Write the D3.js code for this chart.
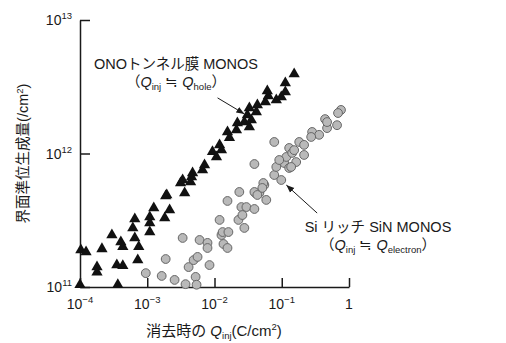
<!DOCTYPE html>
<html>
<head>
<meta charset="utf-8">
<script src="https://cdn.jsdelivr.net/npm/d3@7"></script>
<style>
  body { margin: 0; background: #fff; }
  text { font-family: "Liberation Sans", "Noto Sans CJK JP", sans-serif; fill: #1a1a1a; }
</style>
</head>
<body>
<svg id="chart" width="506" height="343"></svg>
<script>
// ONO tunnel film MONOS (triangles): Q_inj (C/cm2) vs interface states generated (/cm2)
const onoQ = [1.0e-4, 1.03e-4, 1.23e-4, 1.79e-4, 1.79e-4, 2.12e-4, 2.98e-4, 3.65e-4, 3.53e-4, 4.33e-4,
  4.05e-4, 4.33e-4, 7.23e-4, 7.48e-4, 6.53e-4, 6.10e-4, 6.53e-4, 1.09e-3, 1.09e-3, 1.09e-3,
  1.25e-3, 1.82e-3, 2.15e-3, 1.88e-3, 3.13e-3, 3.60e-3, 4.41e-3, 4.72e-3, 3.36e-3, 4.56e-3,
  6.64e-3, 7.11e-3, 9.33e-3, 1.07e-2, 1.19e-2, 1.27e-2, 1.56e-2, 1.67e-2, 2.12e-2, 2.19e-2,
  2.78e-2, 3.30e-2, 3.08e-2, 3.30e-2, 3.53e-2, 4.19e-2, 4.34e-2, 5.70e-2, 6.31e-2, 6.10e-2,
  8.30e-2, 9.84e-2, 0.113, 0.113, 0.153, 1.95e-3];
const onoN = [1.04e11, 1.89e11, 1.83e11, 1.41e11, 1.29e11, 1.93e11, 2.45e11, 1.04e11, 1.46e11, 1.44e11,
  2.17e11, 2.0e11, 1.59e11, 2.0e11, 3.23e11, 2.77e11, 2.33e11, 3.34e11, 3.01e11, 2.58e11,
  3.91e11, 3.29e11, 3.77e11, 4.81e11, 6.01e11, 5.06e11, 6.12e11, 7.14e11, 6.33e11, 6.67e11,
  7.52e11, 8.20e11, 1.03e12, 9.42e11, 1.16e12, 1.06e12, 1.45e12, 1.31e12, 1.50e12, 1.69e12,
  1.72e12, 1.58e12, 1.94e12, 2.19e12, 1.78e12, 2.05e12, 2.31e12, 2.43e12, 2.70e12, 2.94e12,
  2.52e12, 2.65e12, 2.89e12, 3.37e12, 3.94e12, 4.89e11];

// Si-rich SiN MONOS (circles)
const sirQ = [9.51e-4, 1.64e-3, 2.55e-3, 3.71e-3, 5.24e-3, 5.41e-3, 1.88e-3, 3.36e-3, 4.12e-3, 4.89e-3,
  5.60e-3, 8.43e-3, 6.00e-3, 7.87e-3, 7.87e-3, 1.19e-2, 1.27e-2, 1.36e-2, 1.56e-2, 1.32e-2,
  1.61e-2, 1.56e-2, 2.34e-2, 2.27e-2, 2.78e-2, 2.51e-2, 2.98e-2, 3.92e-2, 2.60e-2, 4.05e-2,
  4.65e-2, 5.51e-2, 5.89e-2, 3.92e-2, 5.32e-2, 5.14e-2, 3.92e-2, 4.34e-2, 7.74e-2, 7.74e-2,
  9.84e-2, 8.30e-2, 0.109, 0.129, 0.117, 0.164, 0.129, 0.143, 0.215, 0.153,
  0.182, 0.215, 0.283, 0.360, 0.274, 0.472, 0.441, 0.472, 0.664, 0.760,
  0.687, 9.18e-2, 0.138];
const sirN = [1.27e11, 1.21e11, 1.13e11, 1.05e11, 1.19e11, 1.04e11, 1.62e11, 2.33e11, 1.41e11, 1.59e11,
  1.68e11, 1.46e11, 2.25e11, 2.14e11, 1.96e11, 3.18e11, 2.45e11, 2.10e11, 1.96e11, 2.58e11,
  2.58e11, 4.41e11, 5.15e11, 3.18e11, 2.77e11, 3.97e11, 3.97e11, 3.84e11, 3.46e11, 5.06e11,
  5.06e11, 5.81e11, 4.49e11, 8.34e11, 6.01e11, 5.52e11, 5.15e11, 4.89e11, 1.22e12, 6.90e11,
  6.33e11, 7.93e11, 8.49e11, 7.79e11, 9.42e11, 8.63e11, 1.10e12, 1.01e12, 9.75e11, 1.06e12,
  1.22e12, 1.16e12, 1.45e12, 1.38e12, 1.33e12, 1.55e12, 1.81e12, 1.72e12, 1.63e12, 2.12e12,
  2.01e12, 8.94e11, 7.93e11];

const xTicks = [1e-4, 1e-3, 1e-2, 1e-1, 1];
const xTickBase = ["10", "10", "10", "10", "1"];
const xTickExp = ["−4", "−3", "−2", "−1", ""];
const yTicks = [1e11, 1e12, 1e13];
const yTickExp = ["11", "12", "13"];

// annotation arrows in data units: [tailQ, tailN, tipQ, tipN]
const onoArrow = [1.11e-2, 2.61e12, 2.78e-2, 1.98e12];
const sirArrow = [0.336, 3.58e11, 0.117, 5.8e11];

const svg = d3.select('#chart');

const x = d3.scaleLog().domain([1e-4, 1]).range([80, 349]);
const y = d3.scaleLog().domain([1e11, 1e13]).range([287, 20]);

// axes (ticks point inward)
const xAxis = svg.append('g')
  .attr('transform', 'translate(0,' + y(1e11) + ')')
  .call(d3.axisBottom(x).tickValues(xTicks).tickSizeInner(-9).tickSizeOuter(0).tickFormat(''));
const yAxis = svg.append('g')
  .attr('transform', 'translate(' + x(1e-4) + ',0)')
  .call(d3.axisLeft(y).tickValues(yTicks).tickSizeInner(-10).tickSizeOuter(0).tickFormat(''));
[xAxis, yAxis].forEach((g) => {
  g.selectAll('path, line').attr('stroke', '#1a1a1a').attr('stroke-width', 1.5);
});

// x tick labels
xTicks.forEach((t, i) => {
  const lbl = svg.append('text')
    .attr('x', x(t))
    .attr('y', y(1e11) + 22)
    .attr('text-anchor', 'middle')
    .attr('font-size', 14);
  lbl.append('tspan').text(xTickBase[i]);
  if (xTickExp[i]) {
    lbl.append('tspan').attr('dy', -6).attr('font-size', 9.5).text(xTickExp[i]);
  }
});

// y tick labels
yTicks.forEach((t, i) => {
  const lbl = svg.append('text')
    .attr('x', x(1e-4) - 8)
    .attr('y', y(t) + 5)
    .attr('text-anchor', 'end')
    .attr('font-size', 14);
  lbl.append('tspan').text('10');
  lbl.append('tspan').attr('dy', -6).attr('font-size', 9.5).text(yTickExp[i]);
});

// axis titles
const yTitle = svg.append('text')
  .attr('transform', 'translate(28,' + y(1e12) + ') rotate(-90)')
  .attr('text-anchor', 'middle')
  .attr('font-size', 14.5);
yTitle.append('tspan').text('界面準位生成量(/cm');
yTitle.append('tspan').attr('dy', -5).attr('font-size', 9.5).text('2');
yTitle.append('tspan').attr('dy', 5).text(')');

const xTitle = svg.append('text')
  .attr('x', 214)
  .attr('y', 336)
  .attr('text-anchor', 'middle')
  .attr('font-size', 15);
xTitle.append('tspan').text('消去時の ');
xTitle.append('tspan').attr('font-style', 'italic').text('Q');
xTitle.append('tspan').attr('dy', 3).attr('font-size', 9.5).text('inj');
xTitle.append('tspan').attr('dy', -3).text('(C/cm');
xTitle.append('tspan').attr('dy', -6).attr('font-size', 9.5).text('2');
xTitle.append('tspan').attr('dy', 6).text(')');

// data marks
const sirData = sirQ.map((q, i) => ({ q: q, n: sirN[i] }));
const onoData = onoQ.map((q, i) => ({ q: q, n: onoN[i] }));

svg.append('g')
  .selectAll('circle')
  .data(sirData)
  .enter()
  .append('circle')
  .attr('cx', (d) => x(d.q))
  .attr('cy', (d) => y(d.n))
  .attr('r', 4.4)
  .attr('fill', '#b9b9b9')
  .attr('stroke', '#666')
  .attr('stroke-width', 1);

svg.append('g')
  .selectAll('path')
  .data(onoData)
  .enter()
  .append('path')
  .attr('d', d3.symbol().type(d3.symbolTriangle).size(55))
  .attr('transform', (d) => 'translate(' + x(d.q) + ',' + y(d.n) + ')')
  .attr('fill', '#111');

// annotations
svg.append('defs').append('marker')
  .attr('id', 'head')
  .attr('viewBox', '0 0 10 10')
  .attr('refX', 10)
  .attr('refY', 5)
  .attr('markerWidth', 8)
  .attr('markerHeight', 8)
  .attr('markerUnits', 'userSpaceOnUse')
  .attr('orient', 'auto')
  .append('path')
  .attr('d', 'M0,1L10,5L0,9Z')
  .attr('fill', '#1a1a1a');

[onoArrow, sirArrow].forEach((a) => {
  svg.append('line')
    .attr('x1', x(a[0])).attr('y1', y(a[1]))
    .attr('x2', x(a[2])).attr('y2', y(a[3]))
    .attr('stroke', '#1a1a1a')
    .attr('stroke-width', 1)
    .attr('marker-end', 'url(#head)');
});

function label(px, py, lines) {
  lines.forEach((ln, i) => {
    const t = svg.append('text')
      .attr('x', px)
      .attr('y', py + i * 18)
      .attr('text-anchor', 'middle')
      .attr('font-size', 14.5);
    ln.parts.forEach((p) => {
      const s = t.append('tspan').text(p.t);
      if (p.sub) s.attr('font-size', 9.5).attr('dy', p.dy);
      else if (p.dy) s.attr('dy', p.dy);
      if (p.it) s.attr('font-style', 'italic');
    });
  });
}

label(176, 69, [
  { parts: [{ t: 'ONOトンネル膜 MONOS' }] },
  { parts: [{ t: '（' }, { t: 'Q', it: true }, { t: 'inj', sub: true, dy: 3 }, { t: ' ≒ ', dy: -3 },
    { t: 'Q', it: true }, { t: 'hole', sub: true, dy: 3 }, { t: '）', dy: -3 }] }
]);

label(378, 232, [
  { parts: [{ t: 'Si リッチ SiN MONOS' }] },
  { parts: [{ t: '（' }, { t: 'Q', it: true }, { t: 'inj', sub: true, dy: 3 }, { t: ' ≒ ', dy: -3 },
    { t: 'Q', it: true }, { t: 'electron', sub: true, dy: 3 }, { t: '）', dy: -3 }] }
]);
</script>
</body>
</html>
